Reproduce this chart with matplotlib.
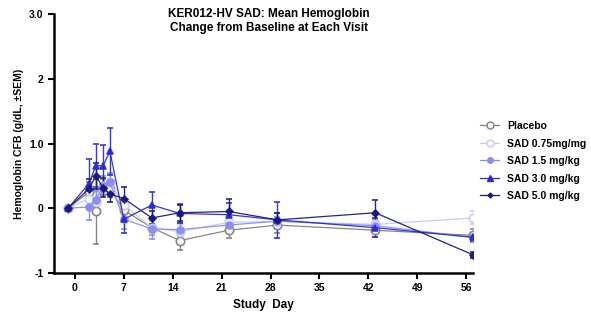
import numpy as np
import matplotlib
matplotlib.use("Agg")
import matplotlib.pyplot as plt
from matplotlib.lines import Line2D

plt.rcParams['font.family'] = ['Liberation Sans', 'DejaVu Sans']
plt.rcParams['font.weight'] = 'bold'

# study days of each visit
days = [-1, 2, 3, 4, 5, 7, 11, 15, 22, 29, 43, 57]

placebo = [0, 0.25, -0.05, 0.33, 0.30, -0.03, -0.30, -0.50, -0.34, -0.26, -0.34, -0.42]
placebo_sem = [0, 0.15, 0.50, 0.12, 0.12, 0.12, 0.12, 0.15, 0.12, 0.12, 0.10, 0.10]

sad075 = [0, 0.15, 0.10, 0.35, 0.40, 0.05, -0.30, -0.36, -0.22, -0.20, -0.25, -0.15]
sad075_sem = [0, 0.12, 0.15, 0.12, 0.15, 0.10, 0.10, 0.10, 0.10, 0.12, 0.10, 0.10]

sad15 = [0, 0.02, 0.12, 0.35, 0.40, -0.17, -0.32, -0.33, -0.26, -0.20, -0.27, -0.45]
sad15_sem = [0, 0.20, 0.15, 0.15, 0.15, 0.15, 0.15, 0.10, 0.10, 0.12, 0.10, 0.05]

sad30 = [0, 0.38, 0.66, 0.65, 0.88, -0.17, 0.05, -0.08, -0.10, -0.18, -0.30, -0.45]
sad30_sem = [0, 0.38, 0.33, 0.32, 0.36, 0.22, 0.20, 0.15, 0.18, 0.28, 0.15, 0.05]

sad50 = [0, 0.30, 0.50, 0.32, 0.22, 0.15, -0.15, -0.07, -0.05, -0.18, -0.07, -0.72]
sad50_sem = [0, 0.15, 0.20, 0.15, 0.12, 0.18, 0.10, 0.12, 0.20, 0.10, 0.20, 0.05]

labels = ["Placebo", "SAD 0.75mg/mg", "SAD 1.5 mg/kg", "SAD 3.0 mg/kg", "SAD 5.0 mg/kg"]
series = [placebo, sad075, sad15, sad30, sad50]
sems = [placebo_sem, sad075_sem, sad15_sem, sad30_sem, sad50_sem]
colors = ["#808080", "#c6caf2", "#8a8cf0", "#2a2ad8", "#18187e"]
markers = ["o", "o", "o", "^", "D"]
msizes = [6, 6, 5, 5, 3.5]
filled = [False, False, True, True, True]

fig = plt.figure(figsize=(5.91, 3.2), dpi=100)
ax = fig.add_axes([0.0914, 0.147, 0.709, 0.809])

handles = []
for y, e, c, m, ms, f, lab in zip(series, sems, colors, markers, msizes, filled, labels):
    ax.errorbar(days, y, yerr=e, color=c, marker=m, markersize=ms,
                markerfacecolor=c if f else "white", markeredgecolor=c,
                markeredgewidth=1.2, linewidth=0.9, elinewidth=1.0,
                capsize=2.5, capthick=1.0, alpha=0.95)
    handles.append(Line2D([], [], color=c, marker=m, markersize=ms - 1,
                          markerfacecolor=c if f else "white", markeredgecolor=c,
                          markeredgewidth=1.0, linewidth=0.9, label=lab))

ax.set_xlim(-3, 57)
ax.set_ylim(-1, 3)
ax.set_xticks([0, 7, 14, 21, 28, 35, 42, 49, 56])
ax.set_yticks([-1, 0, 1, 2, 3])
ax.set_yticklabels(["-1", "0", "1.0", "2", "3.0"])
ax.tick_params(width=1.5, length=4, labelsize=7.5)
for s in ["top", "right"]:
    ax.spines[s].set_visible(False)
for s in ["left", "bottom"]:
    ax.spines[s].set_linewidth(1.8)

ax.set_xlabel("Study  Day", fontsize=8.5, fontweight="bold")
ax.set_ylabel("Hemoglobin CFB (g/dL, \u00b1SEM)", fontsize=7.5, fontweight="bold")
fig.text(0.455, 0.975, "KER012-HV SAD: Mean Hemoglobin\nChange from Baseline at Each Visit",
         ha="center", va="top", fontsize=8.5, fontweight="bold")

ax.legend(handles=handles, loc="upper left", bbox_to_anchor=(1.0, 0.615), frameon=False,
          fontsize=7.5, handlelength=1.8, labelspacing=0.72, borderaxespad=0.3)

fig.savefig("out.png", dpi=100)
